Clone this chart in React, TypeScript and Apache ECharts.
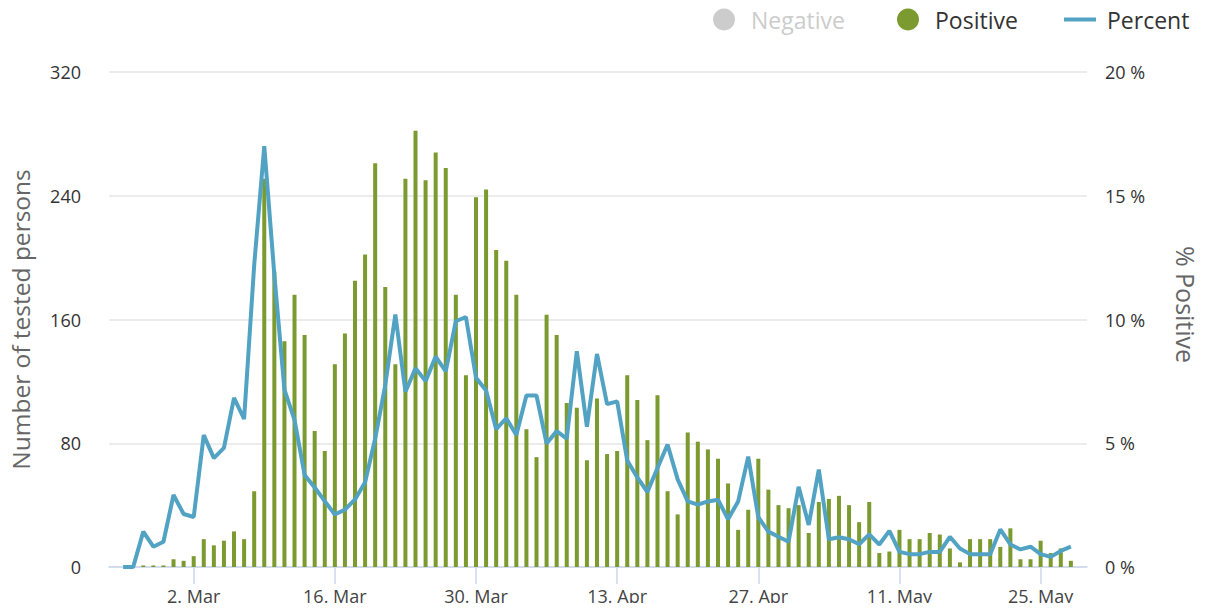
import React, { useEffect, useRef } from "react";
import * as echarts from "echarts";

// Daily values from 24 Feb to 28 May (day 0 of the x axis = 2 Mar)
const firstDayOffset = -7; // 24 Feb relative to 2 Mar

const positive = [
  0, 0, 1, 1, 1, 5, 4,
  7, 18, 14, 17, 23, 18, 49, 251, 191, 146, 176, 150, 88, 75,
  131, 151, 185, 202, 261, 181, 131, 251, 282, 250, 268, 258, 176, 124,
  239, 244, 205, 198, 176, 89, 71, 163, 150, 106, 103, 69, 109, 73,
  75, 124, 108, 82, 111, 49, 34, 87, 81, 76, 70, 54, 24, 37,
  70, 50, 40, 38, 40, 22, 42, 44, 46, 40, 29, 42, 9, 10,
  24, 18, 18, 22, 21, 12, 3, 18, 18, 18, 13, 25, 5, 5,
  17, 9, 12, 4,
];

const percent = [
  0, 0, 1.43, 0.82, 1.02, 2.91, 2.14,
  2.02, 5.33, 4.4, 4.81, 6.83, 5.98, 12.2, 17.0, 11.8, 7.17, 5.94, 3.72, 3.21, 2.66,
  2.12, 2.32, 2.73, 3.42, 5.19, 7.35, 10.2, 7.08, 8.03, 7.51, 8.5, 7.9, 9.93, 10.1,
  7.65, 7.13, 5.57, 6.01, 5.33, 6.93, 6.93, 4.99, 5.49, 5.19, 8.72, 5.67, 8.61, 6.58,
  6.69, 4.3, 3.62, 3.03, 4.0, 4.95, 3.54, 2.65, 2.52, 2.65, 2.72, 1.93, 2.65, 4.46,
  2.01, 1.43, 1.22, 1.02, 3.24, 1.7, 3.94, 1.12, 1.2, 1.12, 0.92, 1.32, 0.91, 1.46,
  0.61, 0.52, 0.52, 0.61, 0.61, 1.22, 0.75, 0.52, 0.52, 0.52, 1.52, 0.91, 0.71, 0.82,
  0.52, 0.41, 0.65, 0.82,
];

// Negative series is hidden in the reference (legend item switched off)
const negative: number[][] = [];

const tickDays = [0, 14, 28, 42, 56, 70, 84];
const tickLabels = ["2. Mar", "16. Mar", "30. Mar", "13. Apr", "27. Apr", "11. May", "25. May"];

const leftTicks = [0, 80, 160, 240, 320];
const rightTicks = [0, 5, 10, 15, 20];

const FONT = "'Open Sans', Lato, sans-serif";
const GREEN = "#7b9a2f";
const BLUE = "#52a3c3";

export default function App() {
  const ref = useRef<HTMLDivElement>(null);

  useEffect(() => {
    if (!ref.current) return;
    const chart = echarts.init(ref.current, undefined, { renderer: "svg" });

    const posData = positive.map((v, i) => [i + firstDayOffset, v]);
    const pctData = percent.map((v, i) => [i + firstDayOffset, v]);

    const legendBase = {
      top: 8,
      padding: 0,
      itemWidth: 22,
      itemHeight: 22,
      icon: "circle",
      inactiveColor: "#cccccc",
      textStyle: { fontSize: 23, color: "#333333", fontFamily: FONT, padding: [0, 0, 0, 11] },
    };

    chart.setOption({
      animation: false,
      textStyle: { fontFamily: FONT },
      legend: [
        { ...legendBase, left: 713, data: ["Negative"], selected: { Negative: false } },
        { ...legendBase, left: 897, data: ["Positive"] },
        {
          ...legendBase,
          left: 1064,
          data: ["Percent"],
          icon: "rect",
          itemWidth: 32,
          itemHeight: 4,
          textStyle: { fontSize: 23, color: "#333333", fontFamily: FONT, padding: [0, 0, 0, 6] },
        },
      ],
      grid: { left: 109, right: 111, top: 72, bottom: 44, containLabel: false },
      xAxis: {
        type: "value",
        min: -8.4,
        max: 88.6,
        axisLine: { show: true, lineStyle: { color: "#ccd6eb", width: 1.5 } },
        axisTick: {
          show: true,
          length: 17,
          customValues: tickDays,
          lineStyle: { color: "#ccd6eb", width: 1.5 },
        },
        axisLabel: {
          customValues: tickDays,
          formatter: (v: number) => {
            const idx = tickDays.indexOf(Math.round(v));
            return idx >= 0 ? tickLabels[idx] : "";
          },
          fontSize: 18,
          color: "#444444",
          margin: 20,
          fontFamily: FONT,
        },
        splitLine: { show: false },
      },
      yAxis: [
        {
          type: "value",
          min: leftTicks[0],
          max: leftTicks[leftTicks.length - 1],
          interval: 80,
          name: "Number of tested persons",
          nameLocation: "middle",
          nameGap: 76,
          nameTextStyle: { fontSize: 24.5, color: "#666666", fontFamily: FONT },
          axisLine: { show: false },
          axisTick: { show: false },
          axisLabel: { fontSize: 18, color: "#333333", margin: 28, fontFamily: FONT, padding: [6, 0, 0, 0] },
          splitLine: { show: true, lineStyle: { color: "#e6e6e6", width: 1.5 } },
        },
        {
          type: "value",
          min: rightTicks[0],
          max: rightTicks[rightTicks.length - 1],
          interval: 5,
          position: "right",
          name: "% Positive",
          nameLocation: "middle",
          nameRotate: -90,
          nameGap: 86,
          nameTextStyle: { fontSize: 25, color: "#666666", fontFamily: FONT, padding: [0, 30, 0, 0] },
          axisLine: { show: false },
          axisTick: { show: false },
          axisLabel: {
            formatter: "{value} %",
            fontSize: 18,
            color: "#333333",
            margin: 18,
            fontFamily: FONT,
            padding: [6, 0, 0, 0],
          },
          splitLine: { show: false },
        },
      ],
      series: [
        {
          name: "Negative",
          type: "bar",
          stack: "tests",
          data: negative,
          barWidth: 4,
          itemStyle: { color: "#cccccc" },
        },
        {
          name: "Positive",
          type: "bar",
          stack: "tests",
          data: posData,
          barWidth: 4,
          itemStyle: { color: GREEN },
        },
        {
          name: "Percent",
          type: "line",
          yAxisIndex: 1,
          data: pctData,
          symbol: "none",
          lineStyle: { color: BLUE, width: 4 },
          itemStyle: { color: BLUE },
          z: 5,
        },
      ],
    });

    return () => chart.dispose();
  }, []);

  return <div ref={ref} style={{ width: 1206, height: 611, margin: -8 }} />;
}
